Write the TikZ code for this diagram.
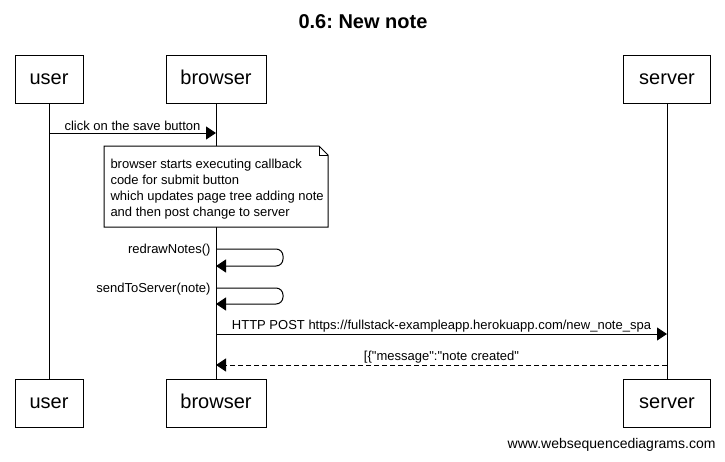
\documentclass[tikz,border=0pt]{standalone}
\usepackage{fontspec}
\setmainfont{Liberation Sans}
\usetikzlibrary{arrows.meta}
\frenchspacing
\begin{document}
\begin{tikzpicture}[x=1pt,y=-1pt,line width=1pt,
  actor/.style={draw,fill=white,minimum height=48pt,inner sep=0pt,text height=14pt,text depth=4pt,font=\fontsize{20}{24}\selectfont},
  msg/.style={-{Triangle[length=10pt,width=13pt]}},
  reply/.style={msg,dash pattern=on 5pt off 3pt},
  lbl/.style={font=\fontsize{13}{15}\selectfont,inner sep=0pt},
  notebox/.style={draw,fill=white},
  self/.style={msg,rounded corners=7pt}]
\useasboundingbox (0,0) rectangle (725,461);
\fill[white] (0,0) rectangle (725,461);

% title
\node[font=\bfseries\fontsize{20}{24}\selectfont] (title) at (363,22) {0.6: New note};

% participants, top and bottom
\node[actor,minimum width=68pt] (userT) at (49,79) {user};
\node[actor,minimum width=100pt] (browserT) at (216,79) {browser};
\node[actor,minimum width=87pt] (serverT) at (667,79) {server};
\node[actor,minimum width=68pt] (userB) at (49,403) {user};
\node[actor,minimum width=100pt] (browserB) at (216,403) {browser};
\node[actor,minimum width=87pt] (serverB) at (667,403) {server};

% lifelines
\draw (userT) -- (userB);
\draw (browserT) -- (browserB);
\draw (serverT) -- (serverB);

% points on the lifelines
\coordinate (u1) at (49,133);
\coordinate (b1) at (216,133);
\coordinate (b2a) at (216,249);
\coordinate (b2b) at (216,266);
\coordinate (s2) at (283,257);
\coordinate (b3a) at (216,288);
\coordinate (b3b) at (216,304);
\coordinate (s3) at (283,296);
\coordinate (b4) at (216,334);
\coordinate (v4) at (667,334);
\coordinate (b5) at (216,365);
\coordinate (v5) at (667,365);

% user clicks save
\draw[msg] (u1) -- node[lbl,above=2pt] {click on the save button} (b1);

% note
\draw[notebox] (104,146) -- (319,146) -- (328,155) -- (328,227) -- (104,227) -- cycle;
\draw (319,146) -- (319,155) -- (328,155);
\node[lbl,anchor=north west,align=left,font=\fontsize{13}{16}\selectfont] (note) at (110,159)
  {browser starts executing callback\\code for submit button\\which updates page tree adding note\\and then post change to server};

% self calls
\draw[self] (b2a) -- (s2 |- b2a) -- (s2 |- b2b) -- (b2b);
\node[lbl,anchor=east] (redraw) at (211,250) {redrawNotes()};
\draw[self] (b3a) -- (s3 |- b3a) -- (s3 |- b3b) -- (b3b);
\node[lbl,anchor=east] (send) at (211,289) {sendToServer(note)};

% request and response
\draw[msg] (b4) -- node[lbl,above=1.5pt] {HTTP POST https://fullstack-exampleapp.herokuapp.com/new\_note\_spa} (v4);
\draw[reply] (v5) -- node[lbl,above=1.5pt] {[\{\textquotedbl message\textquotedbl:\textquotedbl note created\textquotedbl} (b5);

% footer
\node[lbl,anchor=east,font=\fontsize{14}{16}\selectfont] (footer) at (716,445) {www.websequencediagrams.com};
\end{tikzpicture}
\end{document}
